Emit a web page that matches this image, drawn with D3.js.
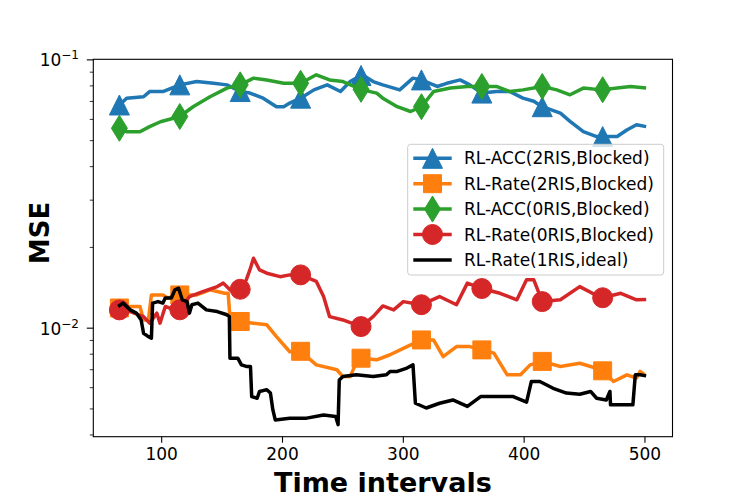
<!DOCTYPE html>
<html>
<head>
<script src="https://d3js.org/d3.v7.min.js"></script>
<style>
    body { margin: 0; background: white; }
    text { font-family: "DejaVu Sans", sans-serif; }
</style>
</head>
<body>
<div id="chart"></div>
<script>
// series
var acc2X = [65, 71, 85, 90, 101, 115, 129, 143, 154, 165, 173, 184, 195, 201, 206, 215, 226, 237, 248, 256, 266, 275, 283, 297, 308, 315, 328, 336, 347, 355, 365, 377, 388, 399, 408, 415, 430, 438, 449, 460, 466, 477, 485, 493, 501];
var acc2Y = [0.0679, 0.072, 0.0729, 0.0762, 0.0762, 0.0807, 0.083, 0.0818, 0.0807, 0.0762, 0.0752, 0.072, 0.0669, 0.0669, 0.069, 0.072, 0.0773, 0.0807, 0.0762, 0.083, 0.088, 0.083, 0.0807, 0.0773, 0.0855, 0.0842, 0.0796, 0.0818, 0.0842, 0.0807, 0.0752, 0.0762, 0.0762, 0.072, 0.0701, 0.0669, 0.0633, 0.059, 0.054, 0.0518, 0.0518, 0.0518, 0.0548, 0.0573, 0.0564];

var rate2X = [65, 74, 82, 85, 89, 91.5, 101, 105, 114, 129, 140, 152, 155, 156.5, 165, 176, 187, 195, 206, 215, 228, 245, 250, 256, 262, 265, 278, 289, 303, 315, 325, 333, 344, 355, 365, 375, 386, 397, 405, 415, 430, 446, 464, 474, 485, 493, 496, 500];
var rate2Y = [0.01189, 0.01205, 0.01205, 0.01073, 0.01073, 0.0133, 0.0133, 0.01295, 0.0133, 0.0133, 0.0139, 0.01349, 0.01349, 0.01104, 0.01059, 0.01044, 0.01029, 0.0093, 0.00817, 0.0082, 0.0073, 0.007, 0.0066, 0.0066, 0.0076, 0.00773, 0.00762, 0.00796, 0.00854, 0.00904, 0.00904, 0.00783, 0.00854, 0.00854, 0.0083, 0.00807, 0.0067, 0.0067, 0.0073, 0.00752, 0.0072, 0.0074, 0.007, 0.00633, 0.0067, 0.00652, 0.0069, 0.0067];

var acc0X = [65, 71, 82, 90, 99, 115, 126, 140, 154, 165, 176, 187, 201, 215, 228, 239, 250, 266, 278, 283, 295, 306, 315, 325, 339, 353, 365, 377, 388, 399, 415, 427, 438, 449, 464, 477, 488, 501];
var acc0Y = [0.0556, 0.054, 0.054, 0.0564, 0.0588, 0.0615, 0.0669, 0.0729, 0.0785, 0.0807, 0.0855, 0.0842, 0.0818, 0.0818, 0.088, 0.0842, 0.083, 0.0773, 0.0752, 0.072, 0.0669, 0.0642, 0.0669, 0.0762, 0.0785, 0.0796, 0.0796, 0.0796, 0.0762, 0.0773, 0.0796, 0.0773, 0.0741, 0.0785, 0.0773, 0.0785, 0.0796, 0.0785];

var rate0X = [65, 74, 85, 90, 96, 98.6, 103, 114, 123, 134, 146, 151, 156.5, 163, 170, 173, 176, 181, 187, 198, 206, 215, 228, 234, 239, 250, 265, 275, 283, 292, 300, 315, 330, 344, 353, 364, 380, 394, 402, 408, 415, 430, 446, 464, 480, 493, 501];
var rate0Y = [0.0117, 0.01153, 0.01104, 0.01044, 0.01138, 0.01044, 0.01205, 0.01153, 0.01312, 0.01368, 0.01429, 0.01472, 0.0139, 0.01349, 0.01514, 0.01648, 0.01823, 0.01648, 0.01603, 0.01556, 0.0158, 0.0158, 0.01494, 0.01312, 0.01104, 0.01073, 0.01014, 0.01104, 0.0121, 0.0117, 0.01256, 0.01223, 0.01312, 0.01223, 0.01472, 0.01409, 0.01349, 0.01276, 0.01514, 0.01514, 0.01256, 0.01276, 0.01429, 0.01295, 0.01349, 0.01276, 0.0128];

var idealX = [64, 68, 74, 79, 83, 85, 89, 91.5, 92.5, 97, 101, 103, 108, 111, 114, 117, 121, 123, 125, 130, 137, 146, 154, 156, 156.5, 163, 166, 170, 173.5, 174.5, 179, 181, 187, 190, 192, 194, 206, 220, 234, 244, 246, 247, 250, 261, 275, 286, 289, 295, 303, 308, 310, 319, 330, 341, 353, 364, 377, 391, 402, 406, 413, 424, 435, 446, 455, 460, 468, 471, 471.5, 480, 490, 492, 496, 501];
var idealY = [0.01205, 0.0124, 0.0117, 0.01138, 0.01073, 0.00957, 0.0093, 0.00918, 0.0124, 0.01256, 0.0124, 0.01295, 0.01295, 0.0139, 0.01409, 0.01276, 0.01256, 0.01138, 0.01223, 0.0124, 0.0117, 0.01153, 0.01122, 0.01104, 0.00773, 0.00773, 0.0073, 0.0072, 0.0072, 0.00556, 0.00548, 0.00581, 0.0059, 0.00573, 0.00497, 0.00455, 0.00462, 0.00462, 0.00475, 0.00469, 0.00437, 0.00641, 0.0066, 0.0067, 0.0066, 0.0067, 0.0069, 0.0069, 0.0071, 0.0073, 0.00525, 0.00504, 0.00525, 0.0054, 0.00511, 0.00556, 0.00556, 0.00556, 0.0053, 0.00633, 0.00633, 0.00597, 0.00573, 0.00567, 0.00581, 0.00548, 0.0054, 0.00581, 0.00518, 0.00518, 0.00518, 0.0067, 0.0067, 0.00664];

var markerX = [65, 115, 165, 215, 265, 315, 365, 415, 465];
var xTicks = [100, 200, 300, 400, 500];
var names = ["RL-ACC(2RIS,Blocked)", "RL-Rate(2RIS,Blocked)", "RL-ACC(0RIS,Blocked)", "RL-Rate(0RIS,Blocked)", "RL-Rate(1RIS,ideal)"];

var series = [
    { name: names[0], xs: acc2X, ys: acc2Y, color: "#1f77b4", marker: "tri" },
    { name: names[1], xs: rate2X, ys: rate2Y, color: "#ff7f0e", marker: "square" },
    { name: names[2], xs: acc0X, ys: acc0Y, color: "#2ca02c", marker: "thin" },
    { name: names[3], xs: rate0X, ys: rate0Y, color: "#d62728", marker: "circle" },
    { name: names[4], xs: idealX, ys: idealY, color: "black", marker: null }
];

var W = 747, H = 498;
var pL = 93.3, pR = 672.5, pT = 59.3, pB = 436.7;

var svg = d3.select("#chart").append("svg")
    .attr("width", W).attr("height", H);

var xs = d3.scaleLinear().domain([43.4, 522.8]).range([pL, pR]);
var ys = d3.scaleLog().domain([0.00394, 0.1005]).range([pB, pT]);

// marker shapes, sizes
function markerPath(type) {
    if (type == "tri") return "M0,-10L10,10L-10,10Z";
    if (type == "square") return "M-9,-9L9,-9L9,9L-9,9Z";
    if (type == "thin") return "M0,-13L8,0L0,13L-8,0Z";
    if (type == "circle") return d3.symbol().type(d3.symbolCircle).size(Math.PI * 10 * 10)();
    return null;
}

function valueAt(s, x) {
    for (var i = 0; i < s.xs.length - 1; i++) {
        if (x >= s.xs[i] && x <= s.xs[i + 1]) {
            var t = (x - s.xs[i]) / (s.xs[i + 1] - s.xs[i]);
            return s.ys[i] + t * (s.ys[i + 1] - s.ys[i]);
        }
    }
    return s.ys[0];
}

var line = d3.line().x(d => xs(d[0])).y(d => ys(d[1]));

var plot = svg.append("g");
plot.append("clipPath").attr("id", "clip").append("rect")
    .attr("x", pL).attr("y", pT).attr("width", pR - pL).attr("height", pB - pT);

series.forEach(function (s) {
    var pts = s.xs.map((x, i) => [x, s.ys[i]]);
    var g = plot.append("g").attr("clip-path", "url(#clip)");
    g.append("path").datum(pts)
        .attr("d", line)
        .attr("fill", "none")
        .attr("stroke", s.color)
        .attr("stroke-width", 3.5)
        .attr("stroke-linejoin", "round");
    if (s.marker) {
        g.selectAll(".mk").data(markerX).enter().append("path")
            .attr("transform", d => "translate(" + xs(d) + "," + ys(valueAt(s, d)) + ")")
            .attr("d", markerPath(s.marker))
            .attr("fill", s.color)
            .attr("stroke", s.color)
            .attr("stroke-width", 1);
    }
});

// axes
svg.append("rect").attr("x", pL).attr("y", pT).attr("width", pR - pL).attr("height", pB - pT)
    .attr("fill", "none").attr("stroke", "black").attr("stroke-width", 1.1);

var xt = svg.append("g");
xTicks.forEach(function (t) {
    xt.append("line").attr("x1", xs(t)).attr("x2", xs(t)).attr("y1", pB).attr("y2", pB + 6)
        .attr("stroke", "black").attr("stroke-width", 1.1);
    xt.append("text").attr("x", xs(t)).attr("y", pB + 23).attr("text-anchor", "middle")
        .attr("font-size", 17).text(t);
});

var yt = svg.append("g");
ys.ticks().forEach(function (t) {
    var e = Math.log10(t);
    var major = Math.abs(e - Math.round(e)) < 1e-9;
    yt.append("line").attr("x1", pL).attr("x2", pL - (major ? 6.5 : 3.5))
        .attr("y1", ys(t)).attr("y2", ys(t))
        .attr("stroke", "black").attr("stroke-width", major ? 1.1 : 0.8);
    if (major) {
        var lab = yt.append("text").attr("x", 79).attr("y", ys(t) + 6.5)
            .attr("text-anchor", "end").attr("font-size", 17);
        lab.append("tspan").text("10");
        lab.append("tspan").attr("dy", -7).attr("font-size", 12).text("\u2212" + Math.abs(Math.round(e)));
    }
});

svg.append("text").attr("x", (pL + pR) / 2).attr("y", 492)
    .attr("text-anchor", "middle").attr("font-size", 27).attr("font-weight", "bold")
    .text("Time intervals");

svg.append("text").attr("transform", "translate(49,233) rotate(-90)")
    .attr("text-anchor", "middle").attr("font-size", 26).attr("font-weight", "bold")
    .text("MSE");

// legend
var lg = svg.append("g");
lg.append("rect").attr("x", 407.7).attr("y", 144.3).attr("width", 256).attr("height", 130.7)
    .attr("rx", 3).attr("fill", "white").attr("fill-opacity", 0.8)
    .attr("stroke", "#cccccc").attr("stroke-width", 1);
series.forEach(function (s, i) {
    var yy = 158.3 + i * 25.4;
    lg.append("line").attr("x1", 413.3).attr("x2", 451.7).attr("y1", yy).attr("y2", yy)
        .attr("stroke", s.color).attr("stroke-width", 3.5);
    if (s.marker) {
        lg.append("path").attr("transform", "translate(432.5," + yy + ")")
            .attr("d", markerPath(s.marker)).attr("fill", s.color).attr("stroke", s.color);
    }
    lg.append("text").attr("x", 464).attr("y", yy + 6).attr("font-size", 17).text(s.name);
});
</script>
</body>
</html>
